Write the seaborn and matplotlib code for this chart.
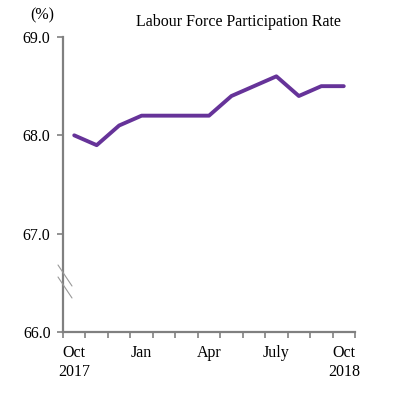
import matplotlib
matplotlib.use("Agg")
import matplotlib.pyplot as plt
import seaborn as sns
import pandas as pd
from matplotlib.lines import Line2D

months = ["Oct 2017", "Nov", "Dec", "Jan", "Feb", "Mar", "Apr", "May", "Jun", "Jul", "Aug", "Sep", "Oct 2018"]
rate = [68.0, 67.9, 68.1, 68.2, 68.2, 68.2, 68.2, 68.4, 68.5, 68.6, 68.4, 68.5, 68.5]
tick_pos = [0, 3, 6, 9, 12]
tick_labels = ["Oct\n2017", "Jan", "Apr", "July", "Oct\n2018"]
y_ticks = [66.0, 67.0, 68.0, 69.0]

sns.set_style("white")
plt.rcParams['font.family'] = ['Liberation Serif', 'DejaVu Serif']
plt.rcParams['text.color'] = 'black'
plt.rcParams['xtick.color'] = 'black'
plt.rcParams['ytick.color'] = 'black'

df = pd.DataFrame({"idx": range(len(months)), "rate": rate})

fig = plt.figure(figsize=(3.94, 3.97), dpi=100)
ax = fig.add_axes([63/394, 1-332/397, (355-63)/394, (332-37)/397])
sns.lineplot(data=df, x="idx", y="rate", ax=ax, color="#663399", linewidth=2.8)

ax.set_xlim(-0.5, len(months) - 0.5)
ax.set_ylim(66, 69)
ax.set_xlabel("")
ax.set_ylabel("")

gray = "#808080"
for s in ["top", "right"]:
    ax.spines[s].set_visible(False)
for s in ["left", "bottom"]:
    ax.spines[s].set_color(gray)
    ax.spines[s].set_linewidth(1.6)

ax.set_yticks(y_ticks)
ax.set_yticklabels([f"{v:.1f}" for v in y_ticks], fontsize=11.5)
ax.tick_params(axis="y", length=4, width=1.2, color=gray, labelcolor="black", pad=5, left=True)

ax.set_xticks(tick_pos)
ax.set_xticklabels(tick_labels, fontsize=11.5, linespacing=1.25)
ax.set_xticks([i - 0.5 for i in range(len(months) + 1)], minor=True)
ax.tick_params(axis="x", which="major", length=0, pad=9.5, labelcolor="black")
ax.tick_params(axis="x", which="minor", length=4, width=1.2, color=gray, bottom=True)
ax.grid(False)

# axis break marks
for y0 in [265, 277]:
    fig.add_artist(Line2D([58/394, 72/394], [1-y0/397, 1-(y0+21)/397],
                          color="#999999", linewidth=0.8))

fig.text(42/394, 1-15/397, "(%)", ha="center", va="center", fontsize=11.5, color="black")
fig.text(238/394, 1-22/397, "Labour Force Participation Rate", ha="center", va="center",
         fontsize=11.5, color="black")

fig.savefig("out.png", dpi=100)
